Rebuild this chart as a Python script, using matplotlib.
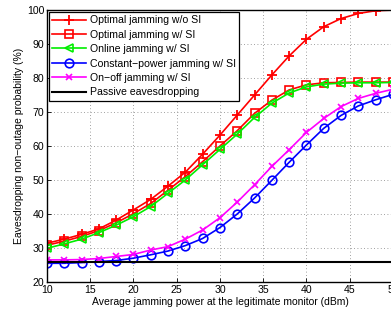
import matplotlib
matplotlib.use("Agg")
import matplotlib.pyplot as plt

plt.rcParams["font.family"] = ["Liberation Sans", "DejaVu Sans"]

power_dbm = list(range(10, 51, 2))

opt_wo_si = [31.4, 32.6, 34.0, 35.6, 38.2, 41.2, 44.3, 48.2, 52.3, 57.6, 63.2,
             69.1, 75.0, 80.9, 86.5, 91.4, 95.1, 97.5, 99.0, 99.8, 100.0]
opt_w_si = [30.8, 32.0, 33.4, 35.1, 37.4, 40.1, 43.1, 47.0, 51.0, 55.4, 60.0,
            64.5, 69.6, 73.5, 76.5, 78.0, 78.6, 78.7, 78.8, 78.8, 78.8]
online_w_si = [29.9, 31.2, 32.6, 34.5, 36.7, 39.2, 42.2, 46.1, 50.0, 54.5, 59.0,
               63.5, 68.4, 72.6, 75.6, 77.4, 78.2, 78.5, 78.6, 78.6, 78.7]
const_power = [25.5, 25.5, 25.7, 26.0, 26.3, 27.0, 28.0, 29.1, 30.7, 32.8, 36.0,
               40.0, 44.7, 49.9, 55.2, 60.3, 65.2, 69.0, 71.8, 73.6, 75.2]
on_off = [26.5, 26.5, 26.6, 26.9, 27.5, 28.1, 29.4, 30.4, 32.6, 35.3, 38.9,
          43.5, 48.6, 54.0, 58.9, 64.0, 68.1, 71.6, 74.0, 75.5, 76.7]
passive = 26.0

labels = ["Optimal jamming w/o SI", "Optimal jamming w/ SI", "Online jamming w/ SI",
          "Constant\u2212power jamming w/ SI", "On\u2212off jamming w/ SI",
          "Passive eavesdropping"]

fig = plt.figure(figsize=(3.91, 3.14), dpi=100)
ax = fig.add_axes([0.120, 0.102, 0.885, 0.866])

lw = 1.2
ax.plot(power_dbm, opt_wo_si, color="red", marker="+", ms=7, mew=1.3, lw=lw, label=labels[0])
ax.plot(power_dbm, opt_w_si, color="red", marker="s", ms=5.2, mfc="none", mew=1.2, lw=lw, label=labels[1])
ax.plot(power_dbm, online_w_si, color="#00ee00", marker="<", ms=6.2, mfc="none", mew=1.2, lw=lw, label=labels[2])
ax.plot(power_dbm, const_power, color="blue", marker="o", ms=6.2, mfc="none", mew=1.2, lw=lw, label=labels[3])
ax.plot(power_dbm, on_off, color="magenta", marker="x", ms=5, mew=1.2, lw=lw, label=labels[4])
ax.plot([power_dbm[0], power_dbm[-1]], [passive, passive], color="black", lw=1.5, label=labels[5])

ax.set_xlim(10, 50)
ax.set_ylim(20, 100)
ax.set_xticks(range(10, 51, 5))
ax.set_yticks(range(20, 101, 10))
ax.tick_params(labelsize=7.6, direction="in", length=3, width=0.6, pad=2)
ax.grid(True, linestyle=(0, (1, 3)), color="gray", linewidth=0.6)
for s in ax.spines.values():
    s.set_linewidth(1.0)

ax.set_xlabel("Average jamming power at the legitimate monitor (dBm)", fontsize=7.5, labelpad=1.5)
ax.set_ylabel("Eavesdropping non\u2212outage probability (%)", fontsize=7.5, labelpad=2)

leg = ax.legend(loc="upper left", fontsize=7.6, handlelength=3.2, handletextpad=0.35,
                borderaxespad=0.15, borderpad=0.35, labelspacing=0.42, fancybox=False,
                framealpha=1, edgecolor="black")
leg.get_frame().set_linewidth(0.9)

fig.savefig("out.png", dpi=100)
